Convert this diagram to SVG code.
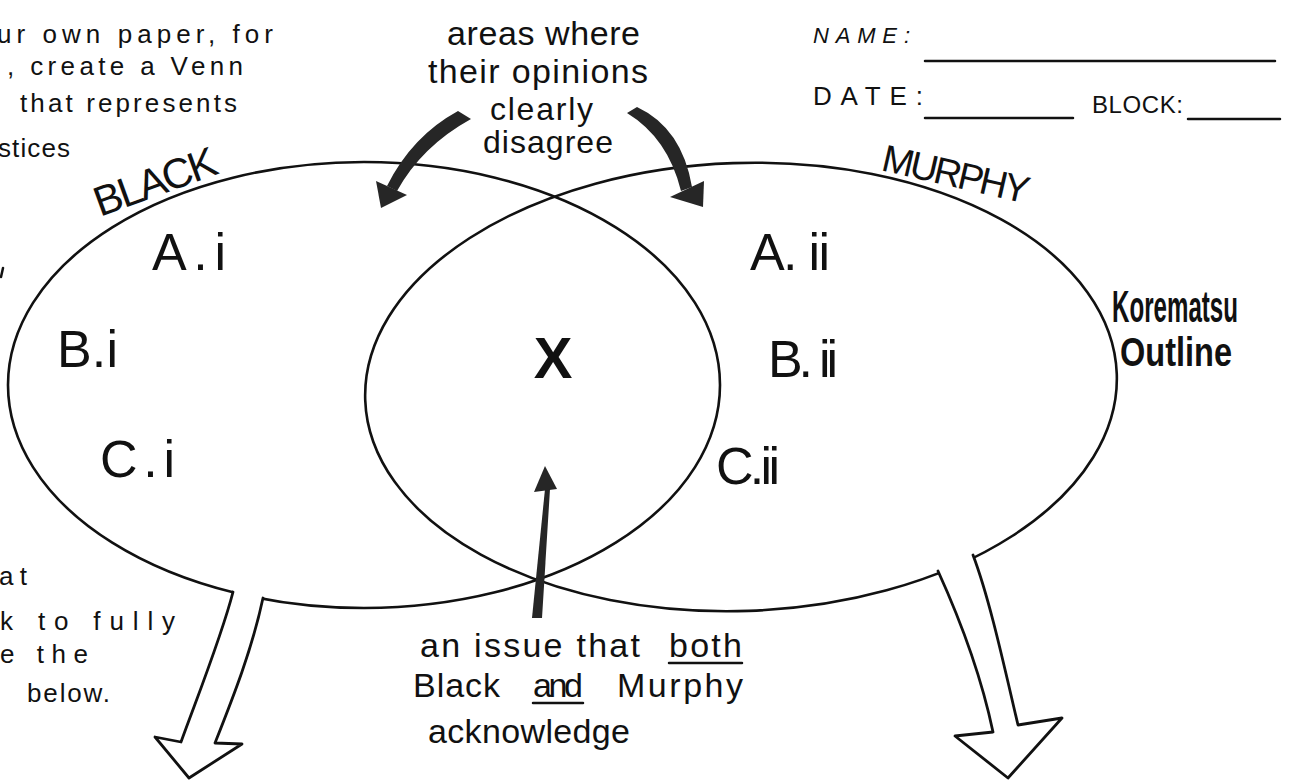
<svg xmlns="http://www.w3.org/2000/svg" width="1302" height="782" viewBox="0 0 1302 782">
<style>
.t{font-family:"Liberation Sans",Arial,sans-serif;fill:#111}
.sm{font-size:26px}
.md{font-size:34px}
.big{font-size:52px}
.ln{stroke:#111;stroke-width:2.5;fill:none;stroke-linecap:round}
.set{fill:none;stroke:#111;stroke-width:2.6}
.dark{fill:#262626}
.hol{fill:none;stroke:#111;stroke-width:2.8;stroke-linejoin:round;stroke-linecap:round}
.wf{fill:#fff;stroke:none}
</style>
<rect width="1302" height="782" fill="#fff"/>

<g id="instructions">
<text class="t sm" x="-3" y="43" textLength="276" lengthAdjust="spacing">ur own paper, for</text>
<text class="t sm" x="7" y="75" textLength="236" lengthAdjust="spacing">, create a Venn</text>
<text class="t sm" x="20" y="112" textLength="217" lengthAdjust="spacing">that represents</text>
<text class="t sm" x="-2" y="157" textLength="72" lengthAdjust="spacing">stices</text>
<path class="ln" d="M3,268 L1,277"/>
<text class="t sm" x="-1" y="585" textLength="28" lengthAdjust="spacing">at</text>
<text class="t sm" x="0" y="630" textLength="175" lengthAdjust="spacing">k to fully</text>
<text class="t sm" x="0" y="663" textLength="88" lengthAdjust="spacing">e the</text>
<text class="t sm" x="27" y="702" textLength="83" lengthAdjust="spacing">below.</text>
</g>

<g id="header">
<text class="t" x="813" y="43" font-size="22" font-style="italic" textLength="97" lengthAdjust="spacing">NAME:</text>
<line class="ln" x1="925" y1="61" x2="1275" y2="61"/>
<text class="t" x="813" y="105" font-size="26" textLength="110" lengthAdjust="spacing">DATE:</text>
<line class="ln" x1="925" y1="118" x2="1073" y2="118"/>
<text class="t" x="1092" y="113" font-size="24" textLength="91" lengthAdjust="spacing">BLOCK:</text>
<line class="ln" x1="1188" y1="119" x2="1280" y2="119"/>
</g>

<g id="title">
<text class="t" x="1112" y="322" font-size="44" font-weight="bold" textLength="126" lengthAdjust="spacingAndGlyphs">Korematsu</text>
<text class="t" x="1120" y="366" font-size="40" font-weight="bold" textLength="112" lengthAdjust="spacingAndGlyphs">Outline</text>
</g>

<g id="note-disagree">
<text class="t md" x="447" y="45" textLength="193" lengthAdjust="spacing">areas where</text>
<text class="t md" x="428" y="83" textLength="220" lengthAdjust="spacing">their opinions</text>
<text class="t" x="490" y="120" font-size="32" textLength="103" lengthAdjust="spacing">clearly</text>
<text class="t" x="483" y="153" font-size="32" textLength="130" lengthAdjust="spacing">disagree</text>
</g>

<g id="note-both">
<text class="t md" x="420" y="657" textLength="220" lengthAdjust="spacing">an issue that</text>
<text class="t md" x="669" y="657" textLength="73" lengthAdjust="spacing">both</text>
<line class="ln" x1="669" y1="663" x2="742" y2="663"/>
<text class="t md" x="413" y="697" textLength="87" lengthAdjust="spacing">Black</text>
<text class="t md" x="533" y="697" textLength="50" lengthAdjust="spacing">and</text>
<line class="ln" x1="533" y1="703" x2="583" y2="703"/>
<text class="t md" x="617" y="697" textLength="126" lengthAdjust="spacing">Murphy</text>
<text class="t md" x="428" y="743" textLength="202" lengthAdjust="spacing">acknowledge</text>
</g>

<g id="black">
<ellipse class="set" cx="364" cy="385" rx="356" ry="223"/>
<text class="t" x="100" y="217" font-size="42" transform="rotate(-20 100 217)" textLength="128" lengthAdjust="spacing">BLACK</text>
<text class="t big" x="152" y="270" textLength="74" lengthAdjust="spacing">A.i</text>
<text class="t big" x="57" y="367" textLength="61" lengthAdjust="spacing">B.i</text>
<text class="t big" x="100" y="477" textLength="75" lengthAdjust="spacing">C.i</text>
</g>

<g id="murphy">
<ellipse class="set" cx="741" cy="387" rx="376" ry="224" transform="rotate(-2 741 387)"/>
<text class="t" x="880" y="170" font-size="38" transform="rotate(13 880 170)" textLength="150" lengthAdjust="spacing">MURPHY</text>
<text class="t big" x="750" y="270" textLength="80" lengthAdjust="spacing">A. ii</text>
<text class="t big" x="768" y="377" textLength="70" lengthAdjust="spacing">B. ii</text>
<text class="t big" x="716" y="484" textLength="64" lengthAdjust="spacing">C.ii</text>
</g>

<g id="overlap">
<text class="t" x="553" y="378" font-size="58" font-weight="bold" text-anchor="middle">X</text>
</g>

<g id="connectors">
<path class="dark" d="M458,111 Q412,136 387,186 L397,191 Q422,146 471,119 Z"/>
<polygon class="dark" points="376,181 381,208 407,195"/>
<path class="dark" d="M627,113 Q668,138 681,191 L692,187 Q682,128 637,107 Z"/>
<polygon class="dark" points="670,197 704,181 703,207"/>
<polygon class="dark" points="532,618 542,618 550,489 545,489"/>
<polygon class="dark" points="545,466 534,492 557,489"/>
<path class="wf" d="M233,592 C222,635 200,690 181,742 L155,737 L189,778 L242,744 L215,743 C232,700 252,650 263,598 L262,590 L234,585 Z"/>
<path class="hol" d="M233,592 C222,635 200,690 181,742 L155,737 L189,778 L242,744 L215,743 C232,700 252,650 263,598"/>
<path class="wf" d="M938,571 C958,615 980,670 993,732 L955,736 L1008,778 L1062,718 L1018,725 C1005,670 990,600 973,555 L972,547 L937,563 Z"/>
<path class="hol" d="M938,571 C958,615 980,670 993,732 L955,736 L1008,778 L1062,718 L1018,725 C1005,670 990,600 973,555"/>
</g>
</svg>
